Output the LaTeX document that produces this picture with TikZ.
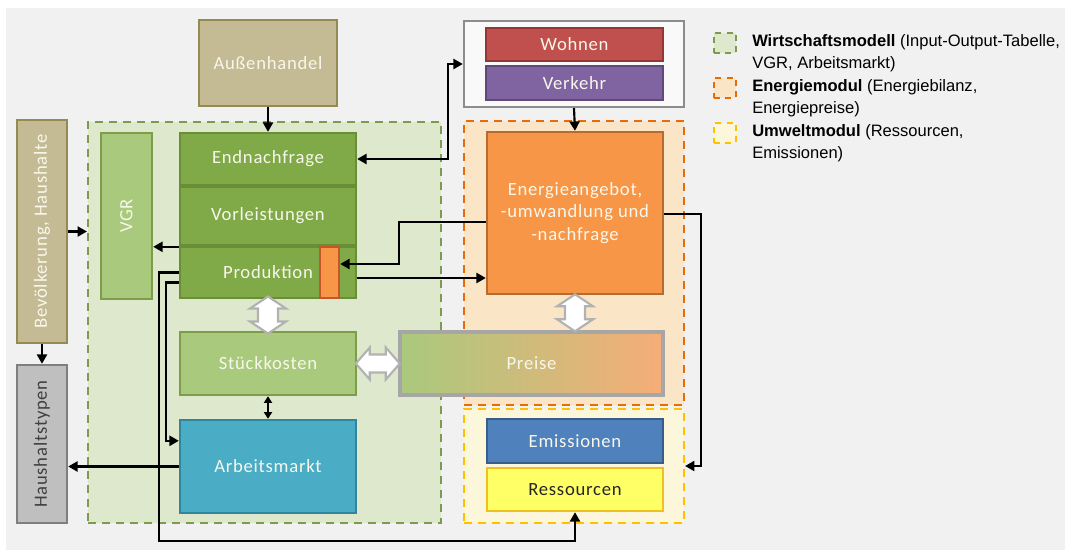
\documentclass[tikz,border=0pt]{standalone}
\usepackage{fontspec}
\setmainfont{Carlito}[LetterSpace=4.0]
\newfontfamily\legfont{Liberation Sans}
\usetikzlibrary{arrows.meta,calc}
\definecolor{bggray}{HTML}{F1F1F1}
\definecolor{grfill}{HTML}{DDE8CD}
\definecolor{grdash}{HTML}{7F9A4F}
\definecolor{orfill}{HTML}{FAE6C6}
\definecolor{ordash}{HTML}{E46C0A}
\definecolor{yefill}{HTML}{FCF7DA}
\definecolor{yedash}{HTML}{FFC000}
\definecolor{dkgreen}{HTML}{80AA48}
\definecolor{dkgreenb}{HTML}{6A8E38}
\definecolor{ltgreen}{HTML}{A9C97D}
\definecolor{ltgreenb}{HTML}{7E9D48}
\definecolor{khaki}{HTML}{C4BA93}
\definecolor{khakib}{HTML}{948A54}
\definecolor{hhgray}{HTML}{BFBFBF}
\definecolor{hhgrayb}{HTML}{7F7F7F}
\definecolor{wohnen}{HTML}{C0504D}
\definecolor{wohnenb}{HTML}{943634}
\definecolor{verkehr}{HTML}{8064A2}
\definecolor{verkehrb}{HTML}{5F497A}
\definecolor{energ}{HTML}{F79646}
\definecolor{energb}{HTML}{B86B30}
\definecolor{preisr}{HTML}{F6AD78}
\definecolor{emis}{HTML}{4F81BD}
\definecolor{emisb}{HTML}{385D8A}
\definecolor{ress}{HTML}{FFFF66}
\definecolor{ressb}{HTML}{F0C020}
\definecolor{arb}{HTML}{4BACC6}
\definecolor{arbb}{HTML}{31859C}
\definecolor{txtw}{HTML}{F7F7EC}
\begin{document}
\begin{tikzpicture}[x=0.75pt,y=-0.75pt,
  wh/.style 2 args={minimum width={#1*0.75pt}, minimum height={#2*0.75pt}},
  box/.style={draw, line width=1.8pt, text=txtw, inner sep=0pt, align=center,
    font=\fontsize{14}{17}\selectfont},
  cont/.style={line width=1.6pt, dash pattern=on 6pt off 4.5pt, inner sep=0pt},
  legsq/.style={line width=1.5pt, dash pattern=on 4.5pt off 4pt, inner sep=0pt, wh={22}{20}},
  leg/.style={align=left, anchor=west, inner sep=0pt, font=\legfont\fontsize{12.4}{16.9}\selectfont},
  conn/.style={line width=1.6pt, -{Triangle[length=7pt,width=7.5pt]}},
  bconn/.style={line width=1.6pt, {Triangle[length=7pt,width=7.5pt]}-{Triangle[length=7pt,width=7.5pt]}},
  sconn/.style={line width=1.6pt, {Triangle[length=5pt,width=6pt]}-{Triangle[length=5pt,width=6pt]}},
  blockarr/.style={draw=gray!60, fill=white, line width=1.6pt, line join=miter}
]
% background
\fill[white] (0,0) rectangle (1065,550);
\fill[bggray] (6,8) rectangle (1065,550);

% containers
\node[cont, draw=grdash, fill=grfill, wh={353}{401}] (green) at (264.5,322.5) {};
\node[cont, draw=ordash, fill=orfill, wh={220}{284}] (orange) at (574,263) {};
\node[cont, draw=yedash, fill=yefill, wh={220}{114}] (yellow) at (574,466) {};

% left column
\node[box, draw=khakib, fill=khaki, rotate=90, wh={223}{50}] (bev) at (42,231.5) {Bevölkerung, Haushalte};
\node[box, draw=hhgrayb, fill=hhgray, text=black!75, rotate=90, wh={158}{50}] (hh) at (42,444) {Haushaltstypen};

% top
\node[box, draw=khakib, fill=khaki, wh={138}{86}] (aus) at (268,63) {Außenhandel};
\node[draw=hhgrayb!90, fill=white!60!bggray, line width=1.8pt, inner sep=0pt, wh={220}{86}] (wv) at (574,64) {};
\node[box, draw=wohnenb, fill=wohnen, wh={177}{33}] (wohn) at (574.5,44.5) {Wohnen};
\node[box, draw=verkehrb, fill=verkehr, wh={177}{34}] (verk) at (574.5,83) {Verkehr};

% economy module
\node[box, draw=ltgreenb, fill=ltgreen, rotate=90, wh={166}{51}] (vgr) at (126.5,216) {VGR};
\node[box, draw=dkgreenb, fill=dkgreen, wh={176}{52}] (endn) at (268,159) {Endnachfrage};
\node[box, draw=dkgreenb, fill=dkgreen, wh={176}{58}] (vorl) at (268,216) {Vorleistungen};
\node[box, draw=dkgreenb, fill=dkgreen, wh={176}{51}] (prod) at (268,272.5) {Produktion};
\node[draw=energb!80!red, fill=energ, line width=1.8pt, inner sep=0pt, wh={19}{51}] (orng) at (329.5,272.5) {};
\node[box, draw=ltgreenb, fill=ltgreen, wh={176}{63}] (stk) at (268,363.5) {Stückkosten};
\node[box, draw=arbb, fill=arb, wh={176}{93}] (arbm) at (268,466.5) {Arbeitsmarkt};

% energy module
\node[box, draw=energb, fill=energ, wh={176}{162}] (en) at (575,213) {Energieangebot,\\-umwandlung und\\-nachfrage};
\node[box, draw=gray!70, left color=ltgreen, right color=preisr, line width=2.4pt, wh={263}{63}] (preis) at (531.5,363.5) {Preise};

% environment module
\node[box, draw=emisb, fill=emis, wh={176}{44}] (emi) at (575,441) {Emissionen};
\node[box, draw=ressb, fill=ress, text=black!85, wh={176}{43}] (res) at (575,489.5) {Ressourcen};

% legend
\node[legsq, draw=grdash, fill=grfill] (sqW) at (725,43) {};
\node[legsq, draw=ordash, fill=orfill] (sqE) at (725,88) {};
\node[legsq, draw=yedash, fill=yefill] (sqU) at (725,133) {};
\node[leg] (legW) at (752,53.25) {\textbf{Wirtschaftsmodell} (Input-Output-Tabelle,\\VGR, Arbeitsmarkt)};
\node[leg] (legE) at (752,98.25) {\textbf{Energiemodul} (Energiebilanz,\\Energiepreise)};
\node[leg] (legU) at (752,143.25) {\textbf{Umweltmodul} (Ressourcen,\\Emissionen)};

% helper coordinates
\coordinate (pvgr) at ($(prod.north west)+(0,1)$);
\coordinate (pen) at ($(prod.east)+(0,5.5)$);

% connectors
\draw[conn] (aus.south) -- (endn.north);
\draw[conn] (bev.south) -- (bev.south -| green.west);
\draw[conn] (bev.west) -- (hh.east);
\draw[conn] (arbm.west) -- (arbm.west -| hh.south);
\draw[conn] (pvgr) -- (pvgr -| vgr.south);
\draw[conn] (prod.west) -- ++(-20,0) |- ($(res.south)+(0,29)$) -- (res.south);
\draw[conn] ($(prod.west)+(0,10)$) -- ++(-13,0) |- ($(arbm.north west)+(0,22)$);
\draw[conn] ($(en.west)+(0,9)$) -- ++(-87,0) |- ($(orng.east)+(0,-8.5)$);
\draw[conn] (pen) -- (pen -| en.west);
\draw[bconn] (endn.east) -- ++(91,0) |- (wv.west);
\draw[conn] (wv.south) -- (en.north);
\draw[conn] ($(en.east)+(0,1)$) -- ++(37,0) |- (yellow.east);
\draw[sconn] (stk.south) -- (arbm.north);

% block arrows
\draw[blockarr, shift={($(prod.south)!0.5!(stk.north)$)}]
  (0,-18.5) -- (18,-6.5) -- (10,-6.5) -- (10,6.5) -- (18,6.5) -- (0,18.5)
  -- (-18,6.5) -- (-10,6.5) -- (-10,-6.5) -- (-18,-6.5) -- cycle;
\draw[blockarr, shift={($(en.south)!0.5!(en.south |- preis.north)$)}]
  (0,-18.5) -- (18,-6.5) -- (10,-6.5) -- (10,6.5) -- (18,6.5) -- (0,18.5)
  -- (-18,6.5) -- (-10,6.5) -- (-10,-6.5) -- (-18,-6.5) -- cycle;
\draw[blockarr, shift={($(stk.east)!0.5!(preis.west)$)}]
  (-22,0) -- (-8,-16) -- (-8,-9) -- (8,-9) -- (8,-16) -- (22,0)
  -- (8,16) -- (8,9) -- (-8,9) -- (-8,16) -- cycle;
\end{tikzpicture}
\end{document}
